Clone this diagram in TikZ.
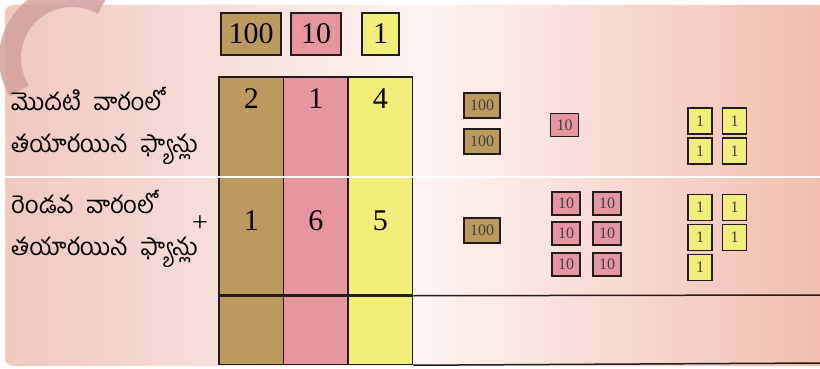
\documentclass[tikz,border=0pt]{standalone}
\usepackage{fontspec}
\usepackage{tikz}
\usetikzlibrary{positioning}
\newfontfamily\telfont[Script=Telugu, WordSpace=2.2]{Hind Guntur}
\newfontfamily\numfont{Liberation Serif}
\definecolor{bgL}{RGB}{240,200,190}
\definecolor{bgM}{RGB}{253,244,242}
\definecolor{bgR}{RGB}{240,188,172}
\definecolor{hundC}{RGB}{188,154,94}
\definecolor{tenC}{RGB}{232,150,158}
\definecolor{oneC}{RGB}{242,238,122}
\definecolor{edgeC}{RGB}{35,28,28}
\definecolor{markC}{RGB}{210,160,158}

\begin{document}
\begin{tikzpicture}[
    x=1pt, y=-1pt,
    edge/.style={draw=edgeC, line width=1.5pt},
    hdr/.style={edge, inner sep=0pt, minimum height=42pt, font=\numfont\fontsize{30}{30}\selectfont},
    cell/.style={edge, inner sep=0pt, minimum width=64.5pt},
    digit/.style={font=\numfont\fontsize{30}{30}\selectfont, inner sep=0pt},
    tile/.style={edge, line width=1.3pt, inner sep=0pt, text=black!75, font=\numfont\fontsize{16}{16}\selectfont},
    hund/.style={tile, fill=hundC, minimum width=36pt, minimum height=25pt},
    ten/.style={tile, fill=tenC, minimum width=28pt, minimum height=23pt},
    one/.style={tile, fill=oneC, minimum width=24pt, minimum height=26pt},
    lbl/.style={anchor=west, inner sep=0pt, font=\telfont\fontsize{24}{24}\selectfont},
  ]
    \useasboundingbox (0,0) rectangle (820,369);

    % ---------- background ----------
    \shade[left color=bgL, right color=bgR, middle color=bgM, rounded corners=8pt]
      (5,5) rectangle (835,366);
    \draw[markC, line width=22pt, opacity=0.85] (72,58) ++(-60:62) arc[start angle=-60, end angle=-212, radius=62];

    % ---------- header ----------
    \node[hdr, fill=hundC, minimum width=60pt] (h100) at (251,34) {100};
    \node[hdr, fill=tenC,  minimum width=50pt] (h10)  at (316,34) {10};
    \node[hdr, fill=oneC,  minimum width=37pt] (h1)   at (380.5,34) {1};

    % ---------- table ----------
    \node[cell, fill=hundC, minimum height=218pt] (cH) at (251.25,186) {};
    \node[cell, fill=tenC,  minimum height=218pt] (cT) at (315.75,186) {};
    \node[cell, fill=oneC,  minimum height=218pt] (cO) at (380.25,186) {};
    \node[cell, fill=hundC, minimum height=68pt, below=0pt of cH] (sH) {};
    \node[cell, fill=tenC,  minimum height=68pt, below=0pt of cT] (sT) {};
    \node[cell, fill=oneC,  minimum height=68pt, below=0pt of cO] (sO) {};
    \coordinate (endA) at (820,295);
    \coordinate (endB) at (820,363);
    \draw[edge] (sO.north east) -- (endA);
    \draw[edge] (sO.south east) -- (endB);

    \node[digit] (a1) at (cH.center |- 0,99) {2};
    \node[digit] (a2) at (cT.center |- 0,99) {1};
    \node[digit] (a3) at (cO.center |- 0,99) {4};
    \node[digit] (b1) at (cH.center |- 0,221) {1};
    \node[digit] (b2) at (cT.center |- 0,221) {6};
    \node[digit] (b3) at (cO.center |- 0,221) {5};

    % ---------- labels ----------
    \node[lbl] (w1a) at (11,99) {మొదటి వారంలో};
    \node[lbl] (w1b) at (11,149) {తయారయిన ఫ్యాన్లు};
    \node[lbl] (w2a) at (11,202) {రెండవ వారంలో};
    \node[lbl] (w2b) at (11,252) {తయారయిన ఫ్యాన్లు};
    \node[inner sep=0pt, font=\numfont\fontsize{28}{28}\selectfont] (plus) at (200,224) {+};

    % ---------- tiles, first week ----------
    \foreach \y [count=\i] in {105.5,141.5} \node[hund] (p1\i) at (482,\y) {100};
    \node[ten] (q11) at (564.5,125) {10};
    \foreach \x/\y [count=\i] in {700/121, 734.5/121, 700/151, 734.5/151}
      \node[one] (r1\i) at (\x,\y) {1};

    % ---------- tiles, second week ----------
    \node[hund] (p21) at (482,230.5) {100};
    \foreach \x/\y [count=\i] in {566/203.5, 607/203.5, 566/233.5, 607/233.5, 566/264.5, 607/264.5}
      \node[ten] (q2\i) at (\x,\y) {10};
    \foreach \x/\y [count=\i] in {700/207.5, 734.5/207.5, 700/237.5, 734.5/237.5, 700/267.5}
      \node[one] (r2\i) at (\x,\y) {1};

    % white rule between the weeks
    \coordinate (sepL) at (5,177);
    \coordinate (sepR) at (820,177);
    \draw[white, line width=2.5pt] (sepL) -- (sepR);
  \end{tikzpicture}
\end{document}
